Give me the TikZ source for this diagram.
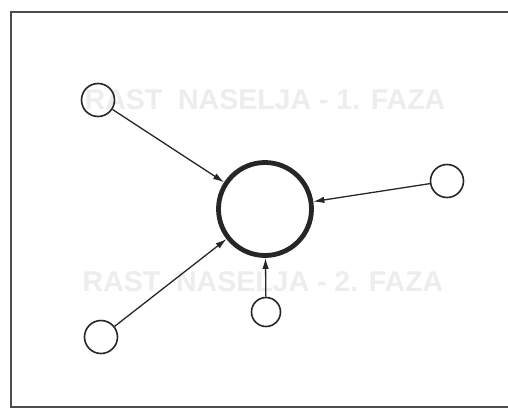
\documentclass[tikz,border=0pt]{standalone}
\usepackage{fontspec}
\setmainfont{Liberation Sans}
\usetikzlibrary{arrows.meta}
\begin{document}
\begin{tikzpicture}[x=1pt,y=-1pt,
  hub/.style={circle,draw=black!85,line width=4.8pt,minimum size=93pt,inner sep=0pt},
  town/.style={circle,draw=black!85,line width=1.6pt,minimum size=33pt,inner sep=0pt},
  flow/.style={draw=black!85,line width=1.3pt,-{Latex[length=11pt,width=6.5pt]}},
  ghost/.style={text=black!7,font=\bfseries\fontsize{28.5}{32}\selectfont,inner sep=0pt}]
  % page and frame
  \fill[white] (0,0) rectangle (508,410);
  \useasboundingbox (0,0) rectangle (508,410);
  \draw[black!70,line width=1.5pt] (520,12) -- (11,12) -- (11,407) -- (520,407);
  % faint captions
  \node[ghost] (capA) at (265,100) {RAST\ \ NASELJA - 1. FAZA};
  \node[ghost] (capB) at (263,282) {RAST\ \ NASELJA - 2. FAZA};
  % settlements
  \node[hub] (c) at (265,209) {};
  \node[town] (nw) at (98,100) {};
  \node[town] (e) at (447,181) {};
  \node[town] (sw) at (101,337) {};
  \node[town,minimum size=29pt] (s) at (266,312) {};
  % growth links
  \draw[flow] (nw) -- (c);
  \draw[flow] (e) -- (c);
  \draw[flow] (sw) -- (c);
  \draw[flow] (s) -- (c);
\end{tikzpicture}
\end{document}
